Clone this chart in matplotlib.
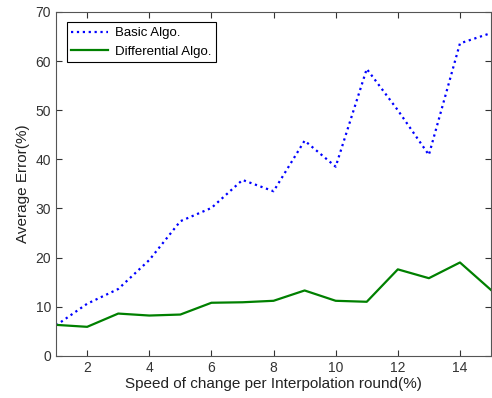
import matplotlib
matplotlib.use("Agg")
import matplotlib.pyplot as plt
import numpy as np

plt.rcParams['font.family'] = ['Liberation Sans', 'DejaVu Sans']

# data
x = np.arange(1, 16)
basic = [6.2, 10.6, 13.6, 19.5, 27.4, 30.1, 35.8, 33.5, 43.8, 38.5, 58.4, 50.0, 40.9, 63.6, 65.7]
diff = [6.3, 5.9, 8.6, 8.2, 8.4, 10.8, 10.9, 11.2, 13.3, 11.2, 11.0, 17.6, 15.8, 19.0, 13.4]
labels = ['Basic Algo.', 'Differential Algo.']

fig = plt.figure(figsize=(4.92, 3.98), dpi=100)
ax = fig.add_axes([0.114, 0.106, 0.884, 0.864])

ax.plot(x, basic, color='#0000ff', linestyle=':', linewidth=1.6, label=labels[0])
ax.plot(x, diff, color='#008000', linestyle='-', linewidth=1.6, label=labels[1])

ax.set_xlim(1, 15)
ax.set_ylim(0, 70)
ax.set_xticks(np.arange(2, 15, 2))
ax.set_yticks(np.arange(0, 71, 10))
ax.tick_params(direction='in', top=True, right=True, labelsize=10, length=4,
               colors='#333333')
for s in ax.spines.values():
    s.set_color('#555555')
    s.set_linewidth(0.8)

ax.set_xlabel('Speed of change per Interpolation round(%)', fontsize=11,
              labelpad=2, color='#222222')
ax.set_ylabel('Average Error(%)', fontsize=11, labelpad=4, color='#222222')

leg = ax.legend(loc='upper left', fontsize=9.5, fancybox=False, framealpha=1,
                edgecolor='black', borderaxespad=0.8, handlelength=2.8,
                handletextpad=0.5, borderpad=0.35, labelspacing=0.45)
leg.get_frame().set_linewidth(0.8)

fig.savefig('out.png', dpi=100)
